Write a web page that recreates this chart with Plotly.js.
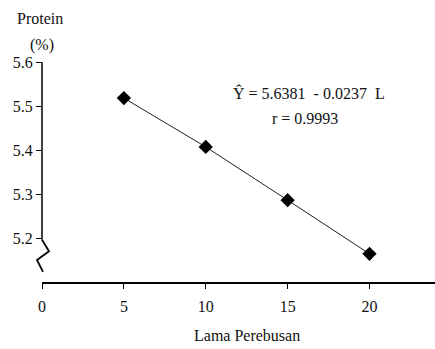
<!DOCTYPE html>
<html>
<head>
<meta charset="utf-8">
<script src="https://cdn.plot.ly/plotly-3.0.1.min.js"></script>
<style>html,body{margin:0;padding:0;background:#fff;}#chart{width:435px;height:349px;}</style>
</head>
<body>
<div id="chart"></div>
<script>
const lamaPerebusan = [5, 10, 15, 20];
const protein = [5.518, 5.407, 5.286, 5.164];
const xTicks = [0, 5, 10, 15, 20];
const yTicks = [5.2, 5.3, 5.4, 5.5, 5.6];
const yTickLabels = ['5.2', '5.3', '5.4', '5.5', '5.6'];

const font = {family: 'Liberation Serif, Times New Roman, serif', size: 16, color: '#111'};

const trace = {
  x: lamaPerebusan, y: protein, type: 'scatter', mode: 'lines+markers',
  line: {color: '#222', width: 1},
  marker: {symbol: 'diamond', size: 11, color: '#000'},
  hoverinfo: 'none'
};

// paper coordinates helpers for the broken y axis
const py = v => (v - 5.1) / 0.5;
const pxOff = p => p / 393;

const layout = {
  width: 435, height: 349,
  margin: {l: 42, r: 0, t: 62, b: 67},
  paper_bgcolor: '#fff', plot_bgcolor: '#fff',
  showlegend: false,
  font: font,
  xaxis: {
    range: [0, 24], tickvals: xTicks, ticks: 'outside', ticklen: 5, tickcolor: '#000',
    showline: true, linecolor: '#000', linewidth: 1.5, showgrid: false, zeroline: false,
    tickfont: font, fixedrange: true, ticklabelstandoff: 4
  },
  yaxis: {
    range: [5.1, 5.6], tickvals: yTicks, ticktext: yTickLabels, ticks: 'outside', ticklen: 5,
    tickcolor: '#000', showline: false, showgrid: false, zeroline: false,
    tickfont: font, fixedrange: true
  },
  shapes: [
    {type: 'line', xref: 'paper', yref: 'paper', x0: 0, x1: 0, y0: py(5.6), y1: py(5.196), line: {color: '#000', width: 1.5}},
    {type: 'path', xref: 'paper', yref: 'paper',
     path: 'M 0 ' + py(5.196) + ' L ' + pxOff(7) + ' ' + py(5.170) + ' L ' + pxOff(-5) + ' ' + py(5.150) + ' L ' + pxOff(1) + ' ' + py(5.123),
     line: {color: '#000', width: 1.8}}
  ],
  annotations: [
    {text: 'Protein', xref: 'paper', yref: 'paper', x: -0.005, y: 1.2, showarrow: false, font: font, xanchor: 'center', yanchor: 'middle'},
    {text: '(%)', xref: 'paper', yref: 'paper', x: 0, y: 1.077, showarrow: false, font: font, xanchor: 'center', yanchor: 'middle'},
    {text: 'Lama Perebusan', xref: 'paper', yref: 'paper', x: 0.522, y: -0.245, showarrow: false, font: font, xanchor: 'center', yanchor: 'middle'},
    {text: 'Ŷ = 5.6381  - 0.0237  L', xref: 'paper', yref: 'paper', x: (309-42)/393, y: (282-93)/220, showarrow: false, font: font, xanchor: 'center', yanchor: 'middle'},
    {text: 'r = 0.9993', xref: 'paper', yref: 'paper', x: (305-42)/393, y: (282-118)/220, showarrow: false, font: font, xanchor: 'center', yanchor: 'middle'}
  ]
};

Plotly.newPlot('chart', [trace], layout, {staticPlot: true, displayModeBar: false});
</script>
</body>
</html>
